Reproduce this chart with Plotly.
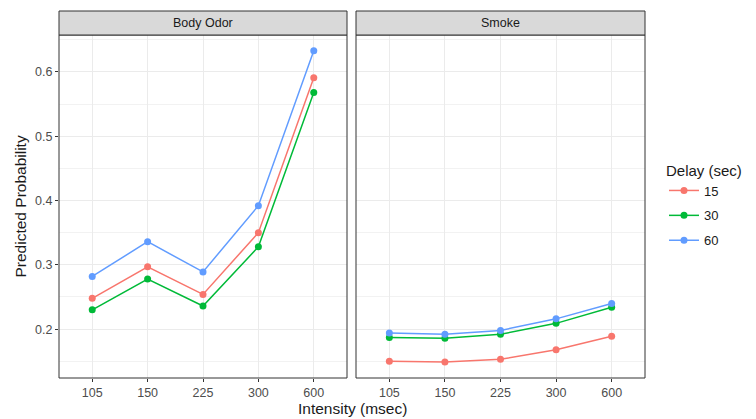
import plotly.graph_objects as go

intensity = ["105", "150", "225", "300", "600"]
delays = ["15", "30", "60"]
body_odor = {
    "15": [0.248, 0.297, 0.254, 0.350, 0.591],
    "30": [0.230, 0.278, 0.236, 0.328, 0.568],
    "60": [0.282, 0.336, 0.289, 0.392, 0.633],
}
smoke = {
    "15": [0.150, 0.149, 0.153, 0.168, 0.189],
    "30": [0.187, 0.186, 0.192, 0.209, 0.234],
    "60": [0.194, 0.192, 0.198, 0.216, 0.240],
}
panels = ["Body Odor", "Smoke"]
colors = {"15": "#F8766D", "30": "#00BA38", "60": "#619CFF"}

W, H = 756, 419
px = lambda x: x / W
py = lambda y: (H - y) / H

fig = go.Figure()
for d in delays:
    fig.add_trace(go.Scatter(x=intensity, y=body_odor[d], mode="lines+markers",
                             line=dict(color=colors[d], width=1.5),
                             marker=dict(color=colors[d], size=7),
                             name=d, legendgroup=d, xaxis="x", yaxis="y"))
for d in delays:
    fig.add_trace(go.Scatter(x=intensity, y=smoke[d], mode="lines+markers",
                             line=dict(color=colors[d], width=1.5),
                             marker=dict(color=colors[d], size=7),
                             name=d, legendgroup=d, showlegend=False,
                             xaxis="x2", yaxis="y2"))

grid = "#ebebeb"
border = "#333333"
font_tick = dict(family="Liberation Sans, Arial", size=12.5, color="#4d4d4d")
yr = [0.124, 0.6575]
xr = [-0.6, 4.6]
x1 = [px(59), px(347)]
x2 = [px(356), px(645)]
yd = [py(378), py(35)]

common_x = dict(type="category", range=xr, showgrid=True, gridcolor=grid, gridwidth=1,
                ticks="outside", ticklen=3, tickcolor=border, tickfont=font_tick,
                showline=False, zeroline=False, fixedrange=True)
common_y = dict(range=yr, showgrid=True, gridcolor=grid, gridwidth=1, dtick=0.1, tick0=0.2,
                minor=dict(dtick=0.05, showgrid=True, gridcolor="#f2f2f2", gridwidth=0.6),
                zeroline=False, showline=False)

fig.update_layout(
    width=W, height=H,
    margin=dict(l=0, r=0, t=0, b=0),
    paper_bgcolor="white", plot_bgcolor="white",
    font=dict(family="Liberation Sans, Arial", color="#1a1a1a"),
    xaxis=dict(domain=x1, anchor="y", **common_x),
    xaxis2=dict(domain=x2, anchor="y2", **common_x),
    yaxis=dict(domain=yd, anchor="x", ticks="outside", ticklen=3, tickcolor=border,
               tickfont=font_tick, **common_y),
    yaxis2=dict(domain=yd, anchor="x2", matches="y", showticklabels=False, ticks="", **common_y),
    legend=dict(x=px(664), y=py(156), xanchor="left", yanchor="top",
                title=dict(text="Delay (sec)", font=dict(size=15, color="#1a1a1a")),
                font=dict(size=13, color="#1a1a1a"), tracegroupgap=5, itemwidth=30),
    showlegend=True,
)

shapes = []
annotations = []
for (xd, name) in [(x1, panels[0]), (x2, panels[1])]:
    shapes.append(dict(type="rect", xref="paper", yref="paper", x0=xd[0], x1=xd[1],
                       y0=yd[0], y1=yd[1], line=dict(color=border, width=1), fillcolor="rgba(0,0,0,0)"))
    shapes.append(dict(type="rect", xref="paper", yref="paper", x0=xd[0], x1=xd[1],
                       y0=py(35), y1=py(11), line=dict(color=border, width=1), fillcolor="#d9d9d9"))
    annotations.append(dict(text=name, xref="paper", yref="paper", x=(xd[0] + xd[1]) / 2,
                            y=(py(35) + py(11)) / 2, showarrow=False, xanchor="center",
                            yanchor="middle", font=dict(size=12.5, color="#1a1a1a")))
annotations.append(dict(text="Intensity (msec)", xref="paper", yref="paper", x=(x1[0] + x2[1]) / 2,
                        y=py(408), showarrow=False, xanchor="center", yanchor="middle",
                        font=dict(size=15.5, color="#1a1a1a")))
annotations.append(dict(text="Predicted Probability", xref="paper", yref="paper", x=px(20),
                        y=(yd[0] + yd[1]) / 2, showarrow=False, textangle=-90,
                        xanchor="center", yanchor="middle", font=dict(size=15.5, color="#1a1a1a")))
fig.update_layout(shapes=shapes, annotations=annotations)

fig.write_html("out.html", config={"displayModeBar": False},
               post_script="document.body.style.margin='0';document.body.style.overflow='hidden';")
